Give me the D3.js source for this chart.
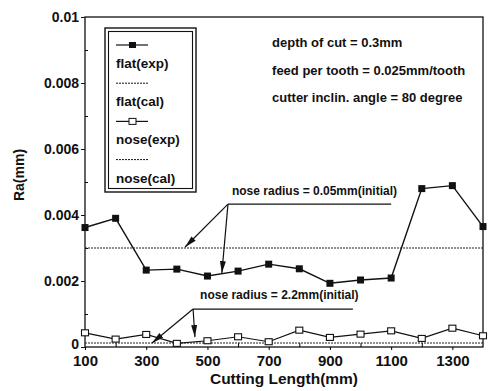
<!DOCTYPE html>
<html lang="en">
<head>
<meta charset="utf-8">
<title>Ra vs cutting length</title>
<script src="https://d3js.org/d3.v7.min.js"></script>
<style>
  body { margin: 0; background: #fff; }
  text { font-family: "Liberation Sans", Arial, sans-serif; font-weight: bold; fill: #111; }
</style>
</head>
<body>
<script>
// data
var lengths = [100, 200, 300, 400, 500, 600, 700, 800, 900, 1000, 1100, 1200, 1300, 1400];
var flatExp = [0.00362, 0.0039, 0.00233, 0.00236, 0.00215, 0.0023, 0.00251, 0.00237, 0.00193, 0.00203, 0.00209, 0.0048, 0.00489, 0.00365];
var noseExp = [0.00043, 0.00024, 0.00038, 0.00011, 0.00019, 0.00031, 0.00016, 0.00051, 0.00029, 0.00039, 0.00049, 0.00026, 0.00057, 0.00034];
var flatCal = [0.003, 0.003];
var noseCal = [0.00012, 0.00012];
var calX = [100, 1400];
var xTickLabels = [100, 300, 500, 700, 900, 1100, 1300];
var yTickLabels = [0, 0.002, 0.004, 0.006, 0.008, 0.01];
var legendNames = ["flat(exp)", "flat(cal)", "nose(exp)", "nose(cal)"];
var conditions = ["depth of cut = 0.3mm", "feed per tooth = 0.025mm/tooth", "cutter inclin. angle = 80 degree"];

var W = 488, H = 391;
var svg = d3.select("body").append("svg").attr("width", W).attr("height", H);

var x = d3.scaleLinear().domain([100, 1400]).range([85, 483]);
var y = d3.scaleLinear().domain([0, 0.01]).range([347, 17]);

svg.append("defs").append("marker")
  .attr("id", "arr").attr("viewBox", "0 0 12 6")
  .attr("refX", 12).attr("refY", 3)
  .attr("markerWidth", 12).attr("markerHeight", 6)
  .attr("markerUnits", "userSpaceOnUse")
  .attr("orient", "auto")
  .append("path").attr("d", "M0,0 L12,3 L0,6 Z").attr("fill", "#111");

// frame
svg.append("rect")
  .attr("x", x(100)).attr("y", y(0.01))
  .attr("width", x(1400) - x(100)).attr("height", y(0) - y(0.01))
  .attr("fill", "none").attr("stroke", "#111").attr("stroke-width", 1.3);

// y axis
var yAxis = svg.append("g").attr("transform", "translate(" + x(100) + ",0)");
yAxis.call(d3.axisLeft(y).tickValues(yTickLabels).tickSize(4).tickFormat(function (d) { return d === 0 ? "0" : String(+d.toFixed(3)); }));
yAxis.select(".domain").remove();
yAxis.selectAll("text").style("font-size", "14px").attr("dx", "1");
yAxis.selectAll(".tick").filter(function (d) { return d === 0; }).select("text").attr("dy", "0.1em");
yAxis.selectAll("line").attr("stroke", "#111");
svg.append("g").attr("transform", "translate(" + x(100) + ",0)")
  .call(d3.axisRight(y).tickValues([0.001, 0.003, 0.005, 0.007, 0.009]).tickSize(3).tickFormat(""))
  .select(".domain").remove();

// x axis
var xAxis = svg.append("g").attr("transform", "translate(0," + y(0) + ")");
xAxis.call(d3.axisBottom(x).tickValues(xTickLabels).tickSize(3).tickPadding(5).tickFormat(d3.format("d")));
xAxis.select(".domain").remove();
xAxis.selectAll("text").style("font-size", "15px");
svg.append("g").attr("transform", "translate(0," + y(0) + ")")
  .call(d3.axisTop(x).tickValues([200, 400, 600, 800, 1000, 1200]).tickSize(4).tickFormat(""))
  .select(".domain").remove();

svg.append("text").attr("x", 284).attr("y", 384).attr("text-anchor", "middle")
  .style("font-size", "15.5px").text("Cutting Length(mm)");
svg.append("text").attr("transform", "translate(24,175) rotate(-90)").attr("text-anchor", "middle")
  .style("font-size", "14px").text("Ra(mm)");

// calculated lines
var calLine = d3.line().x(function (d, i) { return x(calX[i]); }).y(function (d) { return y(d); });
[flatCal, noseCal].forEach(function (s) {
  svg.append("path").attr("d", calLine(s)).attr("fill", "none")
    .attr("stroke", "#222").attr("stroke-width", 1.1).attr("stroke-dasharray", "2,1");
});

// experimental lines
var line = d3.line().x(function (d, i) { return x(lengths[i]); }).y(function (d) { return y(d); });
svg.append("path").attr("d", line(flatExp)).attr("fill", "none").attr("stroke", "#111").attr("stroke-width", 1.4);
svg.append("path").attr("d", line(noseExp)).attr("fill", "none").attr("stroke", "#111").attr("stroke-width", 1.2);

svg.selectAll(".fm").data(flatExp).enter().append("rect")
  .attr("x", function (d, i) { return x(lengths[i]) - 3.5; })
  .attr("y", function (d) { return y(d) - 3.5; })
  .attr("width", 7).attr("height", 7).attr("fill", "#111");
svg.selectAll(".nm").data(noseExp).enter().append("rect")
  .attr("x", function (d, i) { return x(lengths[i]) - 3.5; })
  .attr("y", function (d) { return y(d) - 3; })
  .attr("width", 7).attr("height", 6).attr("fill", "#fff").attr("stroke", "#111").attr("stroke-width", 1.1);

// legend
var lg = svg.append("g");
lg.append("rect").attr("x", 105).attr("y", 28).attr("width", 91).attr("height", 164)
  .attr("fill", "#fff").attr("stroke", "#111").attr("stroke-width", 1.4);
lg.append("rect").attr("x", 108.5).attr("y", 31.5).attr("width", 84).attr("height", 157)
  .attr("fill", "none").attr("stroke", "#111").attr("stroke-width", 1.1);
legendNames.forEach(function (name, i) {
  var ly = 45 + i * 38.2;
  var dotted = (i % 2 === 1);
  lg.append("line").attr("x1", 116).attr("x2", 148).attr("y1", ly).attr("y2", ly)
    .attr("stroke", "#111").attr("stroke-width", dotted ? 1 : 1.2)
    .attr("stroke-dasharray", dotted ? "2,1" : null);
  if (i === 0) lg.append("rect").attr("x", 129).attr("y", ly - 3).attr("width", 7).attr("height", 6).attr("fill", "#111");
  if (i === 2) lg.append("rect").attr("x", 129).attr("y", ly - 3).attr("width", 7).attr("height", 6)
    .attr("fill", "#fff").attr("stroke", "#111");
  lg.append("text").attr("x", 116).attr("y", ly + 23).style("font-size", "13.5px").text(name);
});

// cutting conditions
conditions.forEach(function (t, i) {
  svg.append("text").attr("x", x(711)).attr("y", 47 + i * 27.5).style("font-size", "13px").text(t);
});

// annotations (data coordinates)
function annotate(label, tx, ty, sx, sy, ex, targets) {
  svg.append("text").attr("x", x(tx)).attr("y", y(ty)).style("font-size", "12px").text(label);
  svg.append("line").attr("x1", x(sx)).attr("y1", y(sy)).attr("x2", x(ex)).attr("y2", y(sy))
    .attr("stroke", "#111").attr("stroke-width", 1.2);
  targets.forEach(function (t) {
    svg.append("line").attr("x1", x(sx)).attr("y1", y(sy)).attr("x2", x(t[0])).attr("y2", y(t[1]))
      .attr("stroke", "#111").attr("stroke-width", 1.2).attr("marker-end", "url(#arr)");
  });
}
annotate("nose radius = 0.05mm(initial)", 580, 0.0046, 567, 0.00433, 1100, [[427, 0.00303], [547, 0.00224]]);
annotate("nose radius = 2.2mm(initial)", 476, 0.00145, 453, 0.00115, 975, [[319, 0.00012], [459, 0.0003]]);
</script>
</body>
</html>
